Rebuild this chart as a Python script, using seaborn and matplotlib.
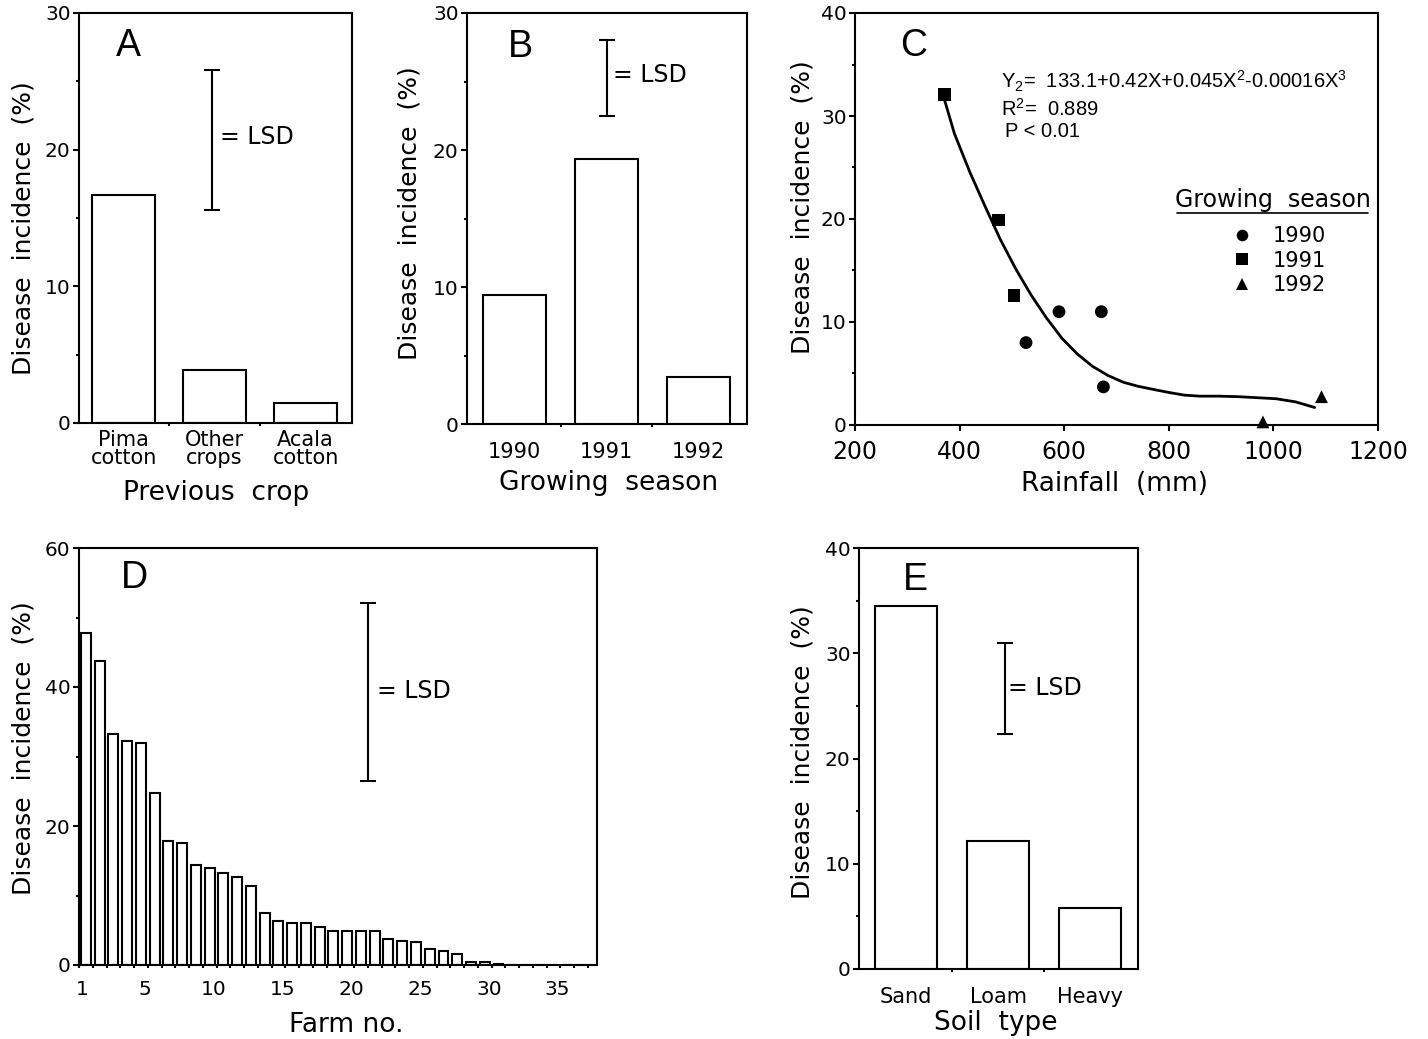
import numpy as np
import pandas as pd
import matplotlib
matplotlib.use("Agg")
import matplotlib.pyplot as plt
import seaborn as sns
from matplotlib.ticker import MultipleLocator, FixedLocator

# ---------------- data ----------------
prev_crop = ["Pima\ncotton", "Other\ncrops", "Acala\ncotton"]
prev_crop_inc = [16.7, 3.85, 1.45]
prev_crop_lsd = [15.6, 25.8]

seasons = ["1990", "1991", "1992"]
season_inc = [9.4, 19.35, 3.45]
season_lsd = [22.5, 28.05]

rain_1990 = [527, 590, 671, 675]
inc_1990 = [8.0, 11.0, 11.0, 3.7]
rain_1991 = [371, 475, 504]
inc_1991 = [32.1, 19.9, 12.6]
rain_1992 = [980, 1092]
inc_1992 = [0.3, 2.75]
fit_rain = [371, 390, 420, 449, 478, 508, 537, 566, 596, 625, 654, 684, 713,
            742, 771, 801, 830, 859, 896, 933, 969, 1005, 1042, 1079]
fit_inc = [31.6, 28.3, 24.5, 21.2, 18.0, 15.1, 12.6, 10.4, 8.4, 6.9, 5.7,
           4.8, 4.15, 3.75, 3.45, 3.15, 2.9, 2.8, 2.8, 2.75, 2.65, 2.55, 2.25, 1.7]

farms = list(range(1, 39))
farm_inc = [47.8, 43.7, 33.2, 32.3, 32.0, 24.7, 17.8, 17.5, 14.4, 13.9, 13.3,
            12.7, 11.3, 7.5, 6.4, 6.1, 6.1, 5.4, 4.95, 4.95, 4.95, 4.95, 3.8,
            3.5, 3.25, 2.3, 2.0, 1.65, 0.5, 0.5, 0.2, 0, 0, 0, 0, 0, 0, 0]
farm_labels = [1, 5, 10, 15, 20, 25, 30, 35]
farm_lsd = [26.5, 52.1]

soils = ["Sand", "Loam", "Heavy"]
soil_inc = [34.5, 12.2, 5.8]
soil_lsd = [22.3, 31.0]

# ---------------- style ----------------
sns.set_theme(style="ticks")
plt.rcParams["font.family"] = ["DejaVu Sans"]
plt.rcParams.update({
    "axes.linewidth": 1.5,
    "axes.edgecolor": "black",
    "xtick.color": "black",
    "ytick.color": "black",
    "xtick.major.width": 1.5,
    "ytick.major.width": 1.5,
    "xtick.minor.width": 1.5,
    "ytick.minor.width": 1.5,
    "xtick.major.size": 4,
    "ytick.major.size": 4,
    "xtick.minor.size": 2.5,
    "ytick.minor.size": 2.5,
    "xtick.direction": "out",
    "ytick.direction": "out",
    "xtick.labelsize": 14.5,
    "ytick.labelsize": 14.5,
    "ytick.major.pad": 2,
    "text.color": "black",
    "axes.labelcolor": "black",
})

W, H = 1428, 1039
fig = plt.figure(figsize=(W / 100, H / 100), dpi=100)


def box(l, t, r, b):
    return fig.add_axes([l / W, 1 - b / H, (r - l) / W, (b - t) / H])


axA = box(79, 13, 352, 423)
axB = box(467, 13, 747, 424)
axC = box(855, 13, 1378, 425)
axD = box(79, 548, 597.5, 965)
axE = box(859, 548, 1138, 969)

YLAB = "Disease  incidence  (%)"
LABFS = 19
LETTER = dict(fontsize=27, family="Liberation Sans", ha="center", va="center")
LSDTXT = dict(fontsize=17, ha="left", va="center")
BAR = dict(color="white", edgecolor="black", linewidth=1.5, saturation=1,
           errorbar=None)


def lsd(ax, x, rng):
    lo, hi = rng
    ax.errorbar([x], [(lo + hi) / 2], yerr=[(hi - lo) / 2], color="black",
                capsize=6, capthick=1.5, elinewidth=1.5, fmt="none")


def cat_axis(ax, labels, xlim, ymax, ystep, pad, **kw):
    ax.set_xlim(*xlim)
    ax.set_ylim(0, ymax)
    ax.set_xticks(range(len(labels)))
    ax.set_xticklabels(labels, fontsize=15, **kw)
    ax.xaxis.set_minor_locator(FixedLocator([0.5, 1.5]))
    ax.tick_params(axis="x", which="major", length=0, pad=pad)
    ax.yaxis.set_major_locator(MultipleLocator(ystep))
    ax.yaxis.set_minor_locator(MultipleLocator(ystep / 2))
    for s in ax.spines.values():
        s.set_visible(True)


# ---------------- A ----------------
sns.barplot(x=prev_crop, y=prev_crop_inc, ax=axA, width=0.69, **BAR)
cat_axis(axA, prev_crop, (-0.49, 2.51), 30, 10, 5, linespacing=0.85)
lsd(axA, 0.97, prev_crop_lsd)
axA.text(1.06, 20.9, "= LSD", **LSDTXT)
axA.text(0.05, 27.6, "A", **LETTER)
axA.set_ylabel(YLAB, fontsize=18)
axA.yaxis.set_label_coords(-0.161, 0.475)
axA.set_xlabel("Previous  crop", fontsize=LABFS, va="top")
axA.xaxis.set_label_coords(0.504, -0.139)

# ---------------- B ----------------
sns.barplot(x=seasons, y=season_inc, ax=axB, width=0.69, **BAR)
cat_axis(axB, seasons, (-0.52, 2.53), 30, 10, 13)
lsd(axB, 1.005, season_lsd)
axB.text(1.07, 25.5, "= LSD", **LSDTXT)
axB.text(0.06, 27.5, "B", **LETTER)
axB.set_ylabel(YLAB, fontsize=18)
axB.yaxis.set_label_coords(-0.161, 0.512)
axB.set_xlabel("Growing  season", fontsize=LABFS, va="top")
axB.xaxis.set_label_coords(0.504, -0.112)

# ---------------- C ----------------
dfC = pd.DataFrame({
    "rain": rain_1990 + rain_1991 + rain_1992,
    "inc": inc_1990 + inc_1991 + inc_1992,
    "season": ["1990"] * len(rain_1990) + ["1991"] * len(rain_1991)
              + ["1992"] * len(rain_1992),
})
sns.lineplot(x=fit_rain, y=fit_inc, ax=axC, color="black", linewidth=2)
sns.scatterplot(data=dfC, x="rain", y="inc", style="season", ax=axC,
                markers={"1990": "o", "1991": "s", "1992": "^"},
                color="black", s=85, edgecolor="black", linewidth=0,
                legend=True)
for coll in axC.collections:
    coll.set_clip_on(False)
axC.set_xlim(200, 1200)
axC.set_ylim(0, 40)
axC.xaxis.set_major_locator(MultipleLocator(200))
axC.yaxis.set_major_locator(MultipleLocator(10))
axC.yaxis.set_minor_locator(MultipleLocator(5))
axC.tick_params(axis="x", which="major", pad=7, labelsize=17)
for s in axC.spines.values():
    s.set_visible(True)
h, l = axC.get_legend_handles_labels()
leg = axC.legend(h, l, frameon=False,
                 loc="upper center", bbox_to_anchor=(0.80, 0.483),
                 fontsize=15, labelspacing=0.22,
                 handletextpad=0.45, markerscale=0.9, borderpad=0.0,
                 borderaxespad=0.0)
axC.text(0.80, 0.547, "Growing  season", transform=axC.transAxes,
         fontsize=17, ha="center", va="center")
axC.plot([0.616, 0.981], [0.515, 0.515], transform=axC.transAxes,
         color="black", linewidth=1.2, clip_on=False)
axC.text(313, 36.8, "C", **LETTER)
EQ = dict(fontsize=14.5, family="Liberation Sans", va="center",
          transform=axC.transAxes)
axC.text(0.28, 0.834,
         r"Y$_\mathregular{2}$=  133.1+0.42X+0.045X$^\mathregular{2}$-0.00016X$^\mathregular{3}$",
         **EQ)
axC.text(0.28, 0.768, r"R$^\mathregular{2}$=  0.889", **EQ)
axC.text(0.287, 0.713, "P < 0.01", **EQ)
axC.set_ylabel(YLAB, fontsize=18)
axC.yaxis.set_label_coords(-0.078, 0.53)
axC.set_xlabel("Rainfall  (mm)", fontsize=LABFS, va="top")
axC.xaxis.set_label_coords(0.497, -0.112)

# ---------------- D ----------------
sns.barplot(x=farms, y=farm_inc, ax=axD, native_scale=True, width=0.72, **BAR)
axD.set_xlim(0.5, 38.2)
axD.set_ylim(0, 60)
label_pos = [0.7] + [v + 0.3 for v in farm_labels[1:]]
axD.xaxis.set_major_locator(FixedLocator(label_pos))
axD.set_xticklabels([str(v) for v in farm_labels], fontsize=14.5)
axD.xaxis.set_minor_locator(FixedLocator(np.arange(0.5, 38, 1)))
axD.tick_params(axis="x", which="major", length=0, pad=11)
axD.yaxis.set_major_locator(MultipleLocator(20))
axD.yaxis.set_minor_locator(MultipleLocator(10))
for s in axD.spines.values():
    s.set_visible(True)
lsd(axD, 21.5, farm_lsd)
axD.text(22.2, 39.4, "= LSD", **LSDTXT)
axD.text(4.5, 55.7, "D", **LETTER)
axD.set_ylabel(YLAB, fontsize=18)
axD.yaxis.set_label_coords(-0.083, 0.52)
axD.set_xlabel("Farm no.", fontsize=LABFS, va="top")
axD.xaxis.set_label_coords(0.515, -0.113)

# ---------------- E ----------------
sns.barplot(x=soils, y=soil_inc, ax=axE, width=0.68, **BAR)
cat_axis(axE, soils, (-0.51, 2.52), 40, 10, 13)
lsd(axE, 1.08, soil_lsd)
axE.text(1.11, 26.7, "= LSD", **LSDTXT)
axE.text(0.1, 37.0, "E", **LETTER)
axE.set_ylabel(YLAB, fontsize=18)
axE.yaxis.set_label_coords(-0.158, 0.515)
axE.set_xlabel("Soil  type", fontsize=LABFS, va="top")
axE.xaxis.set_label_coords(0.491, -0.097)

fig.savefig("out.png", dpi=100, facecolor="white")
